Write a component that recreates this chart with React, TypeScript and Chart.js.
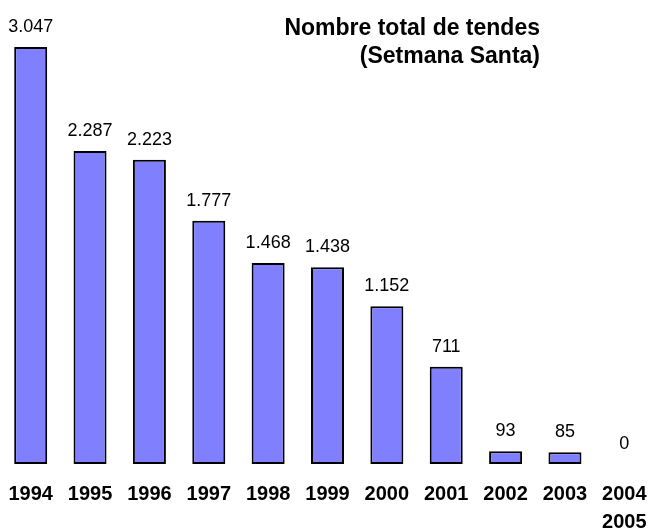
import React, { useEffect, useRef } from "react";
import { Chart, registerables } from "chart.js";

Chart.register(...registerables);

const categories: (string | string[])[] = [
  "1994", "1995", "1996", "1997", "1998", "1999", "2000", "2001", "2002", "2003", ["2004", "2005"],
];
const shopCounts: number[] = [3047, 2287, 2223, 1777, 1468, 1438, 1152, 711, 93, 85, 0];
const titleLines: string[] = ["Nombre total de tendes", "(Setmana Santa)"];

const FONT = "'Liberation Sans', Arial, sans-serif";

function fmt(v: number): string {
  const s = String(Math.round(v));
  return s.replace(/\B(?=(\d{3})+(?!\d))/g, ".");
}

const valueLabels = {
  id: "valueLabels",
  afterDatasetsDraw(chart: any) {
    const ctx = chart.ctx;
    const meta = chart.getDatasetMeta(0);
    const data = chart.data.datasets[0].data as number[];
    ctx.save();
    ctx.font = `18px ${FONT}`;
    ctx.fillStyle = "#000";
    ctx.textAlign = "center";
    ctx.textBaseline = "alphabetic";
    meta.data.forEach((bar: any, i: number) => {
      ctx.fillText(fmt(data[i]), bar.x, bar.y - 15);
    });
    ctx.restore();
  },
};

const titlePlugin = {
  id: "rightTitle",
  afterDraw(chart: any) {
    const ctx = chart.ctx;
    ctx.save();
    ctx.font = `bold 23px ${FONT}`;
    ctx.fillStyle = "#000";
    ctx.textAlign = "right";
    ctx.textBaseline = "alphabetic";
    titleLines.forEach((line, i) => {
      ctx.fillText(line, 540, 35 + i * 28);
    });
    ctx.restore();
  },
};

export default function App() {
  const ref = useRef<HTMLCanvasElement | null>(null);
  useEffect(() => {
    if (!ref.current) return;
    const chart = new Chart(ref.current, {
      type: "bar",
      data: {
        labels: categories,
        datasets: [
          {
            data: shopCounts,
            backgroundColor: "#8080FF",
            borderColor: "#000000",
            borderWidth: 2,
            borderSkipped: false,
            barPercentage: 0.556,
            categoryPercentage: 1,
          },
        ],
      },
      options: {
        responsive: false,
        animation: false,
        layout: { padding: { left: 1, right: 2, top: 0, bottom: 0 } },
        plugins: {
          legend: { display: false },
          title: { display: false },
          tooltip: { enabled: false },
        },
        scales: {
          x: {
            offset: true,
            grid: { display: false, drawTicks: false },
            border: { display: false },
            afterFit(scale: any) {
              scale.height = 73;
              scale.paddingLeft = 0;
              scale.paddingRight = 0;
            },
            ticks: {
              color: "#000",
              padding: 16.5,
              maxRotation: 0,
              autoSkip: false,
              font: { family: FONT, size: 20, weight: "bold", lineHeight: 1.4 },
            },
          },
          y: {
            display: false,
            min: 0,
            max: 3390,
          },
        },
      },
      plugins: [valueLabels, titlePlugin],
    });
    return () => chart.destroy();
  }, []);
  return (
    <div
      style={{
        position: "absolute",
        left: 0,
        top: 0,
        width: 650,
        height: 532,
        overflow: "hidden",
        background: "#fff",
      }}
    >
      <canvas ref={ref} width={656} height={537} style={{ display: "block" }} />
    </div>
  );
}
